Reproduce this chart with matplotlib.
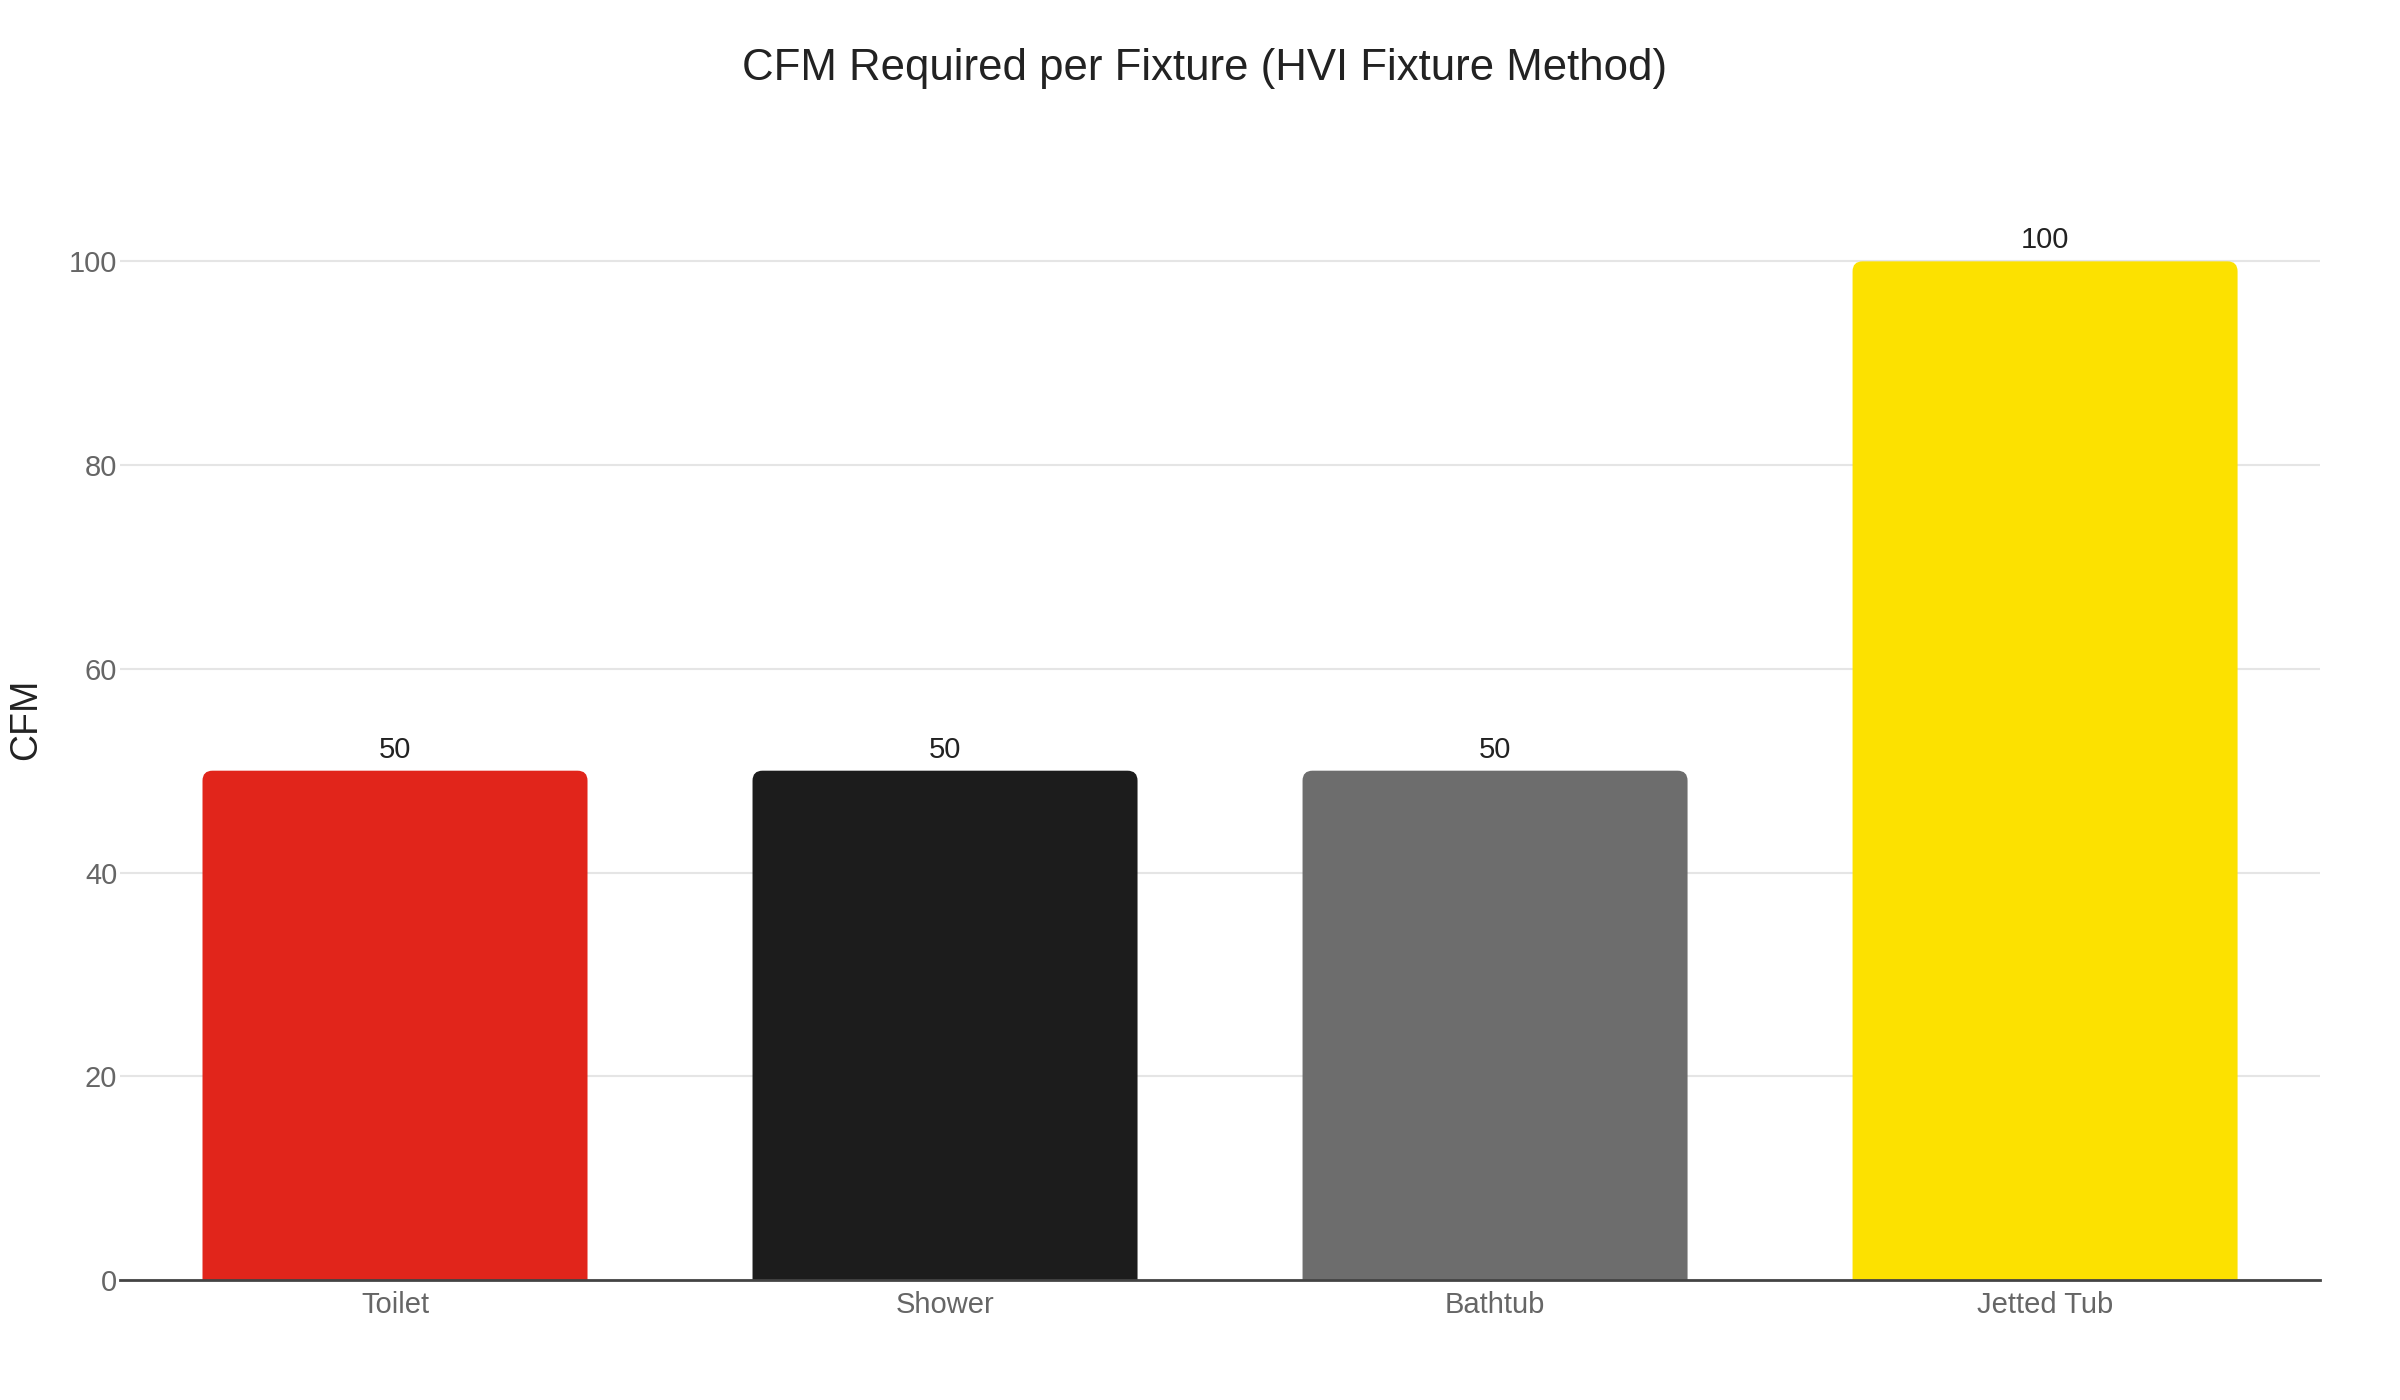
import matplotlib
matplotlib.use("Agg")
import matplotlib.pyplot as plt
from matplotlib.patches import FancyBboxPatch

plt.rcParams['font.family'] = ['Liberation Sans', 'DejaVu Sans']

# data
fixtures = ['Toilet', 'Shower', 'Bathtub', 'Jetted Tub']
cfm = [50, 50, 50, 100]
colors = ['#E1251B', '#1C1C1C', '#6D6D6D', '#FCE100']
yticks = [0, 20, 40, 60, 80, 100]

W, H, DPI = 24, 14, 100
Y_MAX = 105

fig = plt.figure(figsize=(W, H), dpi=DPI)
ax = fig.add_axes([0.05, 0.0857, 0.9167, 0.764])

bars = ax.bar(fixtures, cfm, width=0.7, color=colors, zorder=3)
ax.set_xlim(-0.5, len(fixtures) - 0.5)
ax.set_ylim(0, Y_MAX)

# swap plain bars for ones with rounded top corners
pos = ax.get_position()
px_x = pos.width * W * DPI / len(fixtures)   # pixels per x unit
px_y = pos.height * H * DPI / Y_MAX          # pixels per y unit
radius = 10 / px_x
for b, c in zip(bars, colors):
    b.set_visible(False)
    p = FancyBboxPatch((b.get_x(), -3), b.get_width(), b.get_height() + 3,
                       boxstyle="round,pad=0,rounding_size=%f" % radius,
                       mutation_aspect=px_x / px_y, facecolor=c,
                       edgecolor='none', zorder=3)
    ax.add_patch(p)

for x, v in zip(range(len(fixtures)), cfm):
    ax.annotate(str(v), (x, v), xytext=(0, 5), textcoords='offset points',
                ha='center', va='bottom', fontsize=21, color='#222222')

ax.set_yticks(yticks)
ax.grid(axis='y', color='#E5E5E5', linewidth=1.5, zorder=0)
ax.set_axisbelow(True)
for s in ('top', 'right', 'left'):
    ax.spines[s].set_visible(False)
ax.spines['bottom'].set_color('#444444')
ax.spines['bottom'].set_linewidth(2)
ax.spines['bottom'].set_zorder(4)

ax.tick_params(axis='both', length=0, labelsize=21, labelcolor='#666666')
ax.tick_params(axis='y', pad=2)
ax.tick_params(axis='x', pad=8)

fig.text(0.011, 0.486, 'CFM', rotation=90, ha='center', va='center',
         fontsize=27, color='#222222')
fig.text(0.502, 0.951, 'CFM Required per Fixture (HVI Fixture Method)',
         ha='center', va='center', fontsize=31.5, color='#222222')

fig.savefig('out.png', dpi=DPI, facecolor='white')
